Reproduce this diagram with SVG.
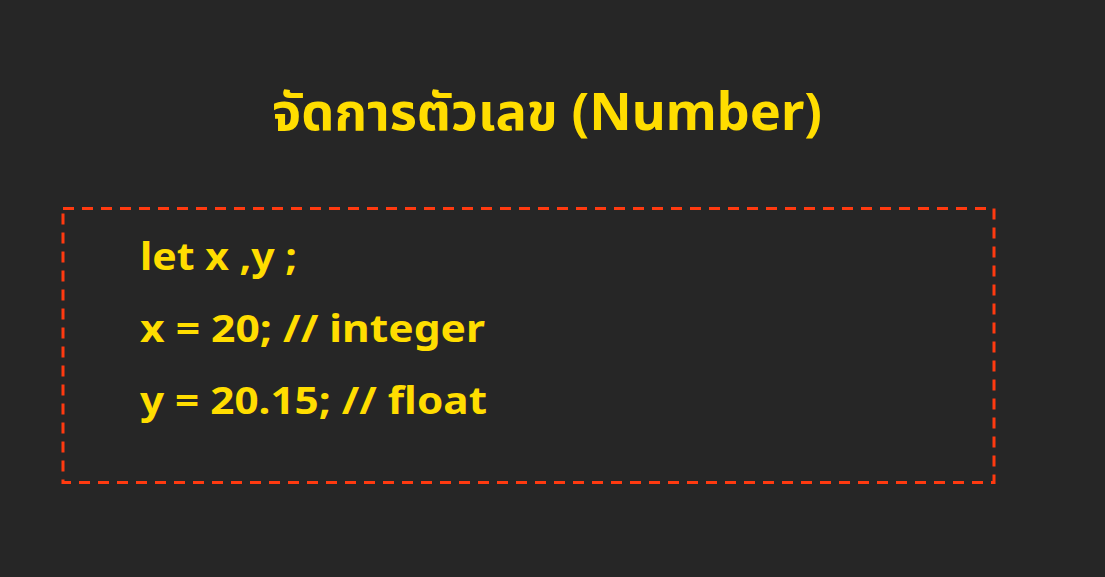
<svg xmlns="http://www.w3.org/2000/svg" width="1105" height="577" viewBox="0 0 1105 577">
<style>
.t{fill:#ffdd00;font-family:"Noto Sans","Noto Sans Thai","Liberation Sans",sans-serif;font-weight:bold}
.code{font-size:38px}
</style>
<rect width="1105" height="577" fill="#262626"/>
<g id="title">
<text class="t" x="547" y="130" font-size="52" text-anchor="middle" textLength="550" lengthAdjust="spacingAndGlyphs">จัดการตัวเลข (Number)</text>
</g>
<g id="box">
<rect x="63" y="208.5" width="931" height="274" fill="none" stroke="#ff3a10" stroke-width="3" stroke-dasharray="11 8"/>
<text class="t code" x="140" y="270" textLength="157" lengthAdjust="spacingAndGlyphs">let x ,y ;</text>
<text class="t code" x="140" y="342" textLength="345" lengthAdjust="spacingAndGlyphs">x = 20; // integer</text>
<text class="t code" x="140" y="414" textLength="347" lengthAdjust="spacingAndGlyphs">y = 20.15; // float</text>
</g>
</svg>
